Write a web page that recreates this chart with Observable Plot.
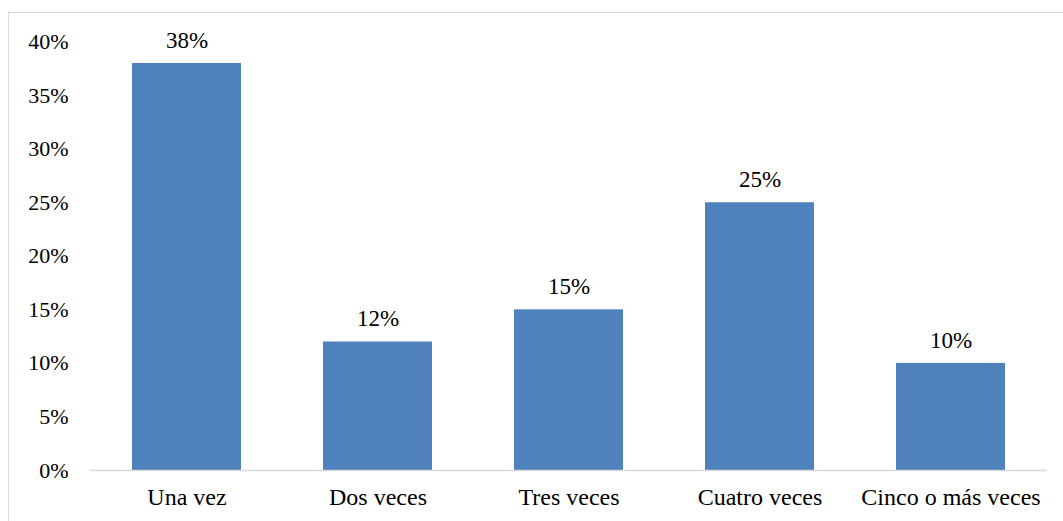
<!DOCTYPE html>
<html><head><meta charset="utf-8">
<script src="https://cdn.jsdelivr.net/npm/d3@7"></script>
<script src="https://cdn.jsdelivr.net/npm/@observablehq/plot@0.6"></script>
<style>
body{margin:0;background:#fff;overflow:hidden;}
#wrap{position:relative;width:1063px;height:521px;}
#border{position:absolute;left:8px;top:12px;width:1100px;height:600px;border:1px solid #d9d9d9;box-sizing:border-box;}
#chart{position:absolute;left:0;top:0;}
#chart svg, #chart svg text{font-family:"Liberation Serif","Times New Roman",Tinos,"DejaVu Serif",serif !important;}
</style></head>
<body><div id="wrap"><div id="border"></div><div id="chart"></div></div>
<script>
const categories = ["Una vez","Dos veces","Tres veces","Cuatro veces","Cinco o más veces"];
const values = [0.38,0.12,0.15,0.25,0.10];
const yTicks = [0,0.05,0.10,0.15,0.20,0.25,0.30,0.35,0.40];
const data = categories.map((c,i)=>({cat:c,val:values[i]}));
const fmt = d3.format(".0%");
const serif = "'Liberation Serif', 'Times New Roman', Tinos, 'DejaVu Serif', serif";
const chart = Plot.plot({
  width:1063, height:521,
  marginLeft:90, marginRight:16, marginTop:41.6, marginBottom:51,
  style:{fontFamily:serif,fontSize:"22px",color:"#000",background:"transparent"},
  x:{domain:categories,paddingInner:0.43,paddingOuter:0.215,label:null,tickSize:0,tickPadding:17},
  y:{domain:[0,0.4],ticks:yTicks,tickFormat:fmt,label:null,tickSize:0,tickPadding:22},
  marks:[
    Plot.barY(data,{x:"cat",y:"val",fill:"#4F81BD"}),
    Plot.ruleY([0],{stroke:"#d9d9d9",strokeWidth:1.5}),
    Plot.axisX({tickSize:0,tickPadding:17,fontSize:24,fontFamily:serif,label:null}),
    Plot.axisY({ticks:yTicks,tickFormat:fmt,tickSize:0,tickPadding:22,fontSize:22,fontFamily:serif,label:null}),
    Plot.text(data,{x:"cat",y:"val",text:d=>fmt(d.val),dy:-23,fill:"#000",fontSize:23,fontFamily:serif})
  ]
});
document.getElementById("chart").appendChild(chart);
</script></body></html>
